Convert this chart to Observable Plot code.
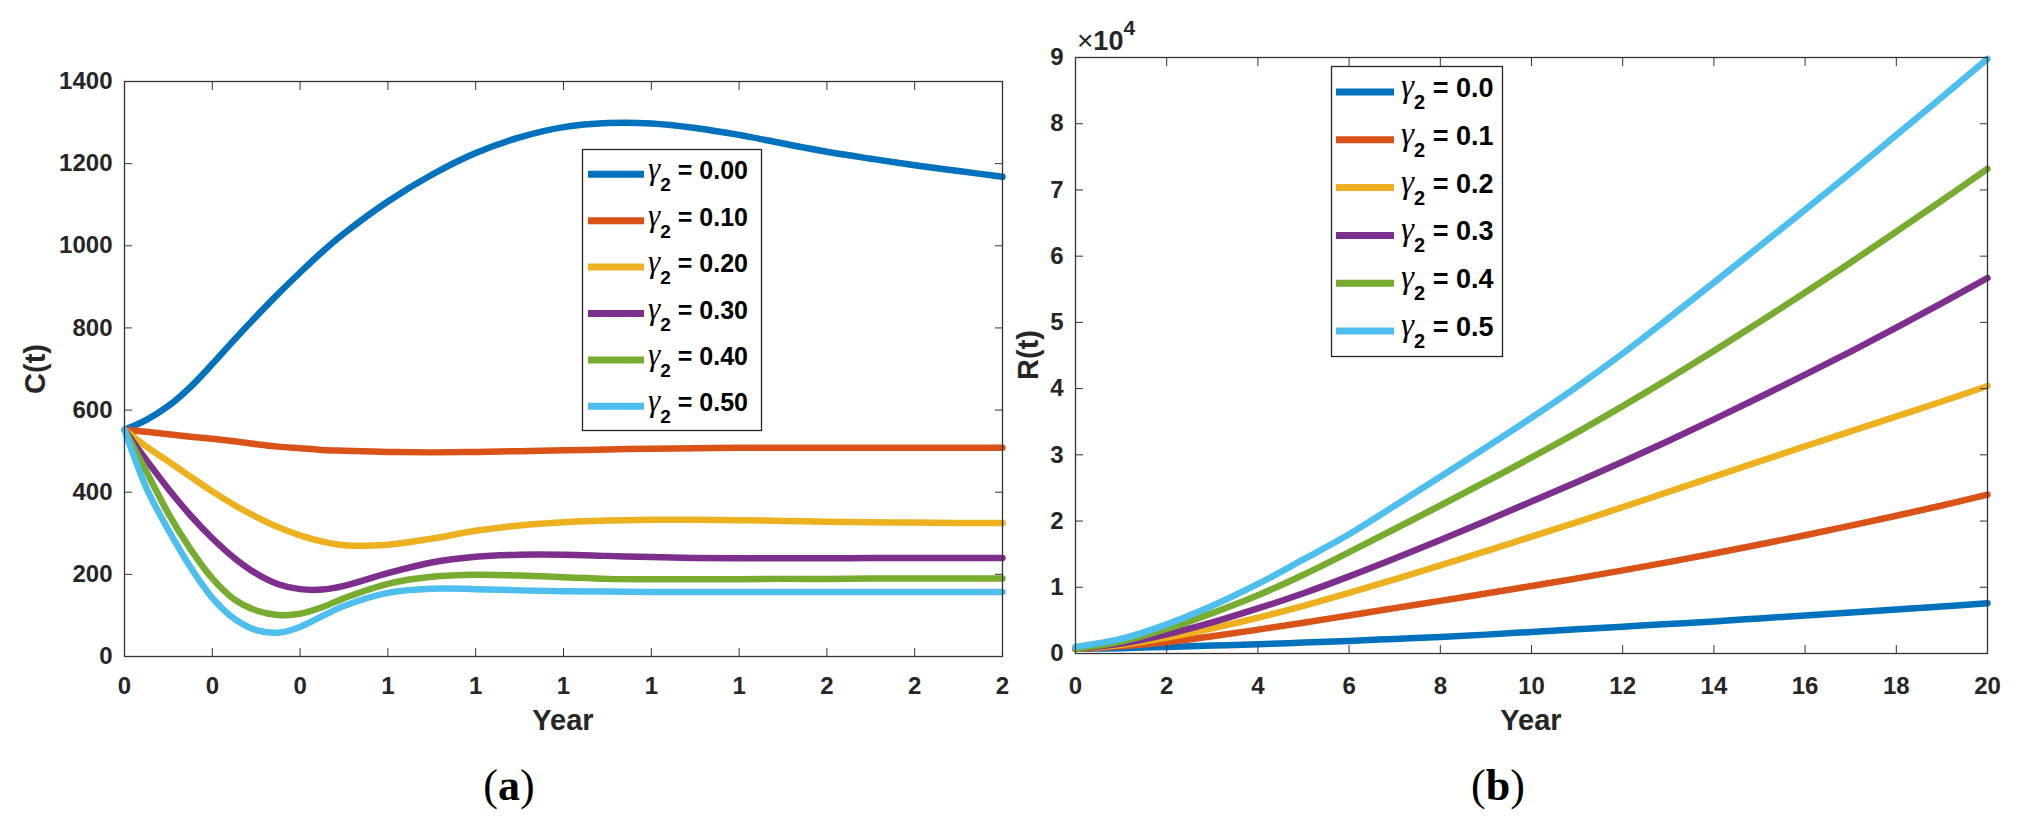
<!DOCTYPE html>
<html>
<head>
<meta charset="utf-8">
<script src="https://cdn.jsdelivr.net/npm/d3@7"></script>
<script src="https://cdn.jsdelivr.net/npm/@observablehq/plot@0.6"></script>
<style>
  html, body { margin: 0; padding: 0; background: #fff; }
  #root { position: relative; width: 2022px; height: 827px; overflow: hidden; background: #fff;
          font-family: "Liberation Sans", Arial, sans-serif; color: #262626; }
  .lab { position: absolute; font-weight: bold; font-size: 29px; line-height: 1; white-space: nowrap; transform: translate(-50%, -50%); }
  .cap { position: absolute; font-family: "Liberation Serif", "Times New Roman", serif; font-size: 44px; line-height: 1; color: #000; white-space: nowrap; transform: translate(-50%, -50%); }
</style>
</head>
<body>
<div id="root"></div>
<script>
// ---------------- data ----------------
const seriesColors = ["#0072BD", "#D95319", "#EDB120", "#7E2F8E", "#77AC30", "#4DBEEE"];

// Panel (a): C(t)
const gammaLabelsC = ["0.00", "0.10", "0.20", "0.30", "0.40", "0.50"];
const tC = [0, 0.05, 0.1, 0.15, 0.2, 0.25, 0.3, 0.35, 0.4, 0.45, 0.5, 0.6, 0.7, 0.8, 0.9, 1.0, 1.1, 1.2, 1.3, 1.4, 1.5, 1.6, 1.7, 1.8, 1.9, 2.0];
const C_g000 = [552, 576, 610, 656, 712, 771, 828, 883, 935, 985, 1030, 1108, 1173, 1226, 1264, 1289, 1299, 1298, 1287, 1270, 1249, 1229, 1212, 1196, 1182, 1168];
const C_g010 = [552, 547, 541, 535, 530, 524, 517, 511, 507, 503, 501, 498, 497, 498, 500, 502, 504, 506, 507, 508, 508, 508, 508, 508, 508, 508];
const C_g020 = [552, 511, 475, 438, 402, 369, 340, 315, 295, 280, 271, 272, 287, 306, 319, 327, 331, 333, 333, 332, 330, 328, 327, 326, 325, 325];
const C_g030 = [552, 478, 408, 344, 288, 240, 202, 176, 164, 163, 172, 203, 229, 243, 248, 248, 245, 242, 240, 239, 239, 239, 240, 240, 240, 240];
const C_g040 = [552, 450, 348, 262, 190, 139, 112, 101, 104, 120, 142, 177, 194, 199, 197, 193, 189, 188, 188, 188, 189, 189, 190, 190, 190, 190];
const C_g050 = [552, 410, 308, 218, 143, 92, 64, 58, 72, 98, 123, 155, 165, 164, 161, 159, 158, 157, 157, 157, 157, 157, 157, 157, 157, 157];
const xTicksC = [0, 0.2, 0.4, 0.6, 0.8, 1.0, 1.2, 1.4, 1.6, 1.8, 2.0];
const xTickLabelsC = ["0", "0", "0", "1", "1", "1", "1", "1", "2", "2", "2"];
const yTicksC = [0, 200, 400, 600, 800, 1000, 1200, 1400];
const yTickLabelsC = ["0", "200", "400", "600", "800", "1000", "1200", "1400"];

// Panel (b): R(t)
const gammaLabelsR = ["0.0", "0.1", "0.2", "0.3", "0.4", "0.5"];
const tR = [0, 1, 2, 3, 4, 5, 6, 7, 8, 9, 10, 11, 12, 13, 14, 15, 16, 17, 18, 19, 20];
const R_g00 = [700, 800, 1000, 1200, 1400, 1650, 1900, 2200, 2500, 2850, 3250, 3650, 4050, 4450, 4850, 5300, 5750, 6200, 6650, 7100, 7600];
const R_g01 = [700, 1100, 1700, 2600, 3600, 4650, 5750, 6850, 7950, 9050, 10200, 11350, 12550, 13800, 15100, 16450, 17850, 19300, 20800, 22350, 24000];
const R_g02 = [700, 1300, 2400, 3800, 5400, 7200, 9150, 11200, 13300, 15450, 17650, 19850, 22100, 24400, 26700, 29000, 31300, 33550, 35800, 38050, 40400];
const R_g03 = [700, 1500, 2900, 4700, 6800, 9100, 11650, 14350, 17150, 20000, 22950, 25900, 28950, 32100, 35350, 38700, 42100, 45600, 49200, 52900, 56700];
const R_g04 = [700, 1800, 3700, 6100, 8800, 11900, 15300, 18800, 22350, 25950, 29600, 33400, 37350, 41450, 45700, 50050, 54500, 59050, 63700, 68400, 73200];
const R_g05 = [1000, 2200, 4400, 7200, 10500, 14200, 18000, 22300, 26700, 31100, 35600, 40300, 45300, 50600, 56000, 61500, 67000, 72600, 78300, 84000, 89800];
const xTicksR = [0, 2, 4, 6, 8, 10, 12, 14, 16, 18, 20];
const xTickLabelsR = ["0", "2", "4", "6", "8", "10", "12", "14", "16", "18", "20"];
const yTicksR = [0, 10000, 20000, 30000, 40000, 50000, 60000, 70000, 80000, 90000];
const yTickLabelsR = ["0", "1", "2", "3", "4", "5", "6", "7", "8", "9"];

// ---------------- helpers ----------------
const root = document.getElementById("root");
const FONT = "Liberation Sans, Arial, sans-serif";
const lab = (ticks, labels) => d => labels[ticks.findIndex(v => Math.abs(v - d) < 1e-9)];

function longRows(t, series) {
  const rows = [];
  series.forEach((s, k) => s.forEach((v, i) => rows.push({t: t[i], v, k})));
  return rows;
}

function framedAxes(xt, xl, yt, yl, xPad) {
  const common = {fontSize: 24, fontWeight: "bold", label: null};
  return [
    Plot.frame({stroke: "#333", strokeWidth: 1.3}),
    // inward tick marks on all four sides
    Plot.axisX({ticks: xt, anchor: "bottom", tickSize: 8, dy: -8, fill: "none", label: null, stroke: "#333"}),
    Plot.axisX({ticks: xt, anchor: "top", tickSize: 8, dy: 8, fill: "none", label: null, stroke: "#333"}),
    Plot.axisY({ticks: yt, anchor: "left", tickSize: 8, dx: 8, fill: "none", label: null, stroke: "#333"}),
    Plot.axisY({ticks: yt, anchor: "right", tickSize: 8, dx: -8, fill: "none", label: null, stroke: "#333"}),
    // tick labels
    Plot.axisX({ticks: xt, anchor: "bottom", tickSize: 0, tickPadding: xPad, tickFormat: lab(xt, xl), ...common}),
    Plot.axisY({ticks: yt, anchor: "left", tickSize: 0, tickPadding: 12, tickFormat: lab(yt, yl), ...common})
  ];
}

function place(node, left, top) {
  node.style.position = "absolute";
  node.style.left = left + "px";
  node.style.top = top + "px";
  root.appendChild(node);
}

// ---------------- panel (a) ----------------
const rowsC = longRows(tC, [C_g000, C_g010, C_g020, C_g030, C_g040, C_g050]);
const plotA = Plot.plot({
  width: 1010, height: 730,
  marginLeft: 124, marginRight: 8, marginTop: 81, marginBottom: 74,
  style: {fontFamily: FONT, color: "#262626", background: "transparent", overflow: "visible"},
  x: {domain: [0, 2]},
  y: {domain: [0, 1400]},
  color: {domain: [0, 1, 2, 3, 4, 5], range: seriesColors},
  marks: [
    Plot.line(rowsC, {x: "t", y: "v", z: "k", stroke: "k", strokeWidth: 6.5, curve: "catmull-rom"}),
    ...framedAxes(xTicksC, xTickLabelsC, yTicksC, yTickLabelsC, 20)
  ]
});
place(plotA, 0, 0);

// ---------------- panel (b) ----------------
const rowsR = longRows(tR, [R_g00, R_g01, R_g02, R_g03, R_g04, R_g05]);
const plotB = Plot.plot({
  width: 1012, height: 730,
  marginLeft: 65, marginRight: 35, marginTop: 57, marginBottom: 77,
  style: {fontFamily: FONT, color: "#262626", background: "transparent", overflow: "visible"},
  x: {domain: [0, 20]},
  y: {domain: [0, 90000]},
  color: {domain: [0, 1, 2, 3, 4, 5], range: seriesColors},
  marks: [
    Plot.line(rowsR, {x: "t", y: "v", z: "k", stroke: "k", strokeWidth: 6.5, curve: "catmull-rom"}),
    ...framedAxes(xTicksR, xTickLabelsR, yTicksR, yTickLabelsR, 23)
  ]
});
place(plotB, 1010, 0);

// ---------------- legends ----------------
function makeLegend(box, rowY0, rowDy, sx0, sx1, tx, labels, fs) {
  const svg = d3.create("svg").attr("width", box.w).attr("height", box.h).style("overflow", "visible");
  svg.append("rect").attr("x", 0.5).attr("y", 0.5).attr("width", box.w - 1).attr("height", box.h - 1)
    .attr("fill", "#fff").attr("stroke", "#262626").attr("stroke-width", 1.3);
  labels.forEach((l, i) => {
    const cy = rowY0 + i * rowDy - box.y;
    svg.append("line").attr("x1", sx0 - box.x).attr("x2", sx1 - box.x).attr("y1", cy).attr("y2", cy)
      .attr("stroke", seriesColors[i]).attr("stroke-width", 7);
    const t = svg.append("text").attr("x", tx - box.x).attr("y", cy + 5)
      .attr("font-family", FONT).attr("font-weight", "bold").attr("font-size", fs).attr("fill", "#000")
      .style("white-space", "pre");
    t.append("tspan").attr("font-family", "Liberation Serif, serif").attr("font-style", "italic")
      .attr("font-weight", "normal").attr("font-size", fs + 6).text("γ");
    t.append("tspan").attr("font-size", Math.round(fs * 0.75)).attr("dy", 12).text("2");
    t.append("tspan").attr("dy", -12).text(" = " + l);
  });
  place(svg.node(), box.x, box.y);
}
makeLegend({x: 582, y: 149, w: 180, h: 282}, 174.3, 46.4, 588, 644, 648, gammaLabelsC, 25);
makeLegend({x: 1331, y: 66, w: 172, h: 291}, 92, 47.8, 1336, 1394, 1401, gammaLabelsR, 27);

// ---------------- exponent label ×10^4 ----------------
{
  const svg = d3.create("svg").attr("width", 120).attr("height", 50).style("overflow", "visible");
  const t = svg.append("text").attr("x", 7).attr("y", 35).attr("font-family", FONT).attr("fill", "#262626");
  t.append("tspan").attr("font-size", 28).text("×");
  t.append("tspan").attr("font-size", 27).attr("font-weight", "bold").text("10");
  t.append("tspan").attr("font-size", 21).attr("font-weight", "bold").attr("dy", -15).text("4");
  place(svg.node(), 1070, 15);
}

// ---------------- axis titles & captions ----------------
function addLabel(cls, html, cx, cy, rotate) {
  const d = document.createElement("div");
  d.className = cls;
  d.innerHTML = html;
  d.style.left = cx + "px";
  d.style.top = cy + "px";
  if (rotate) d.style.transform = "translate(-50%, -50%) rotate(-90deg)";
  root.appendChild(d);
}
addLabel("lab", "C(t)", 35, 369, true);
addLabel("lab", "R(t)", 1028, 355, true);
addLabel("lab", "Year", 563, 720, false);
addLabel("lab", "Year", 1531, 720, false);
addLabel("cap", "(<b>a</b>)", 509, 786, false);
addLabel("cap", "(<b>b</b>)", 1498, 786, false);
</script>
</body>
</html>
